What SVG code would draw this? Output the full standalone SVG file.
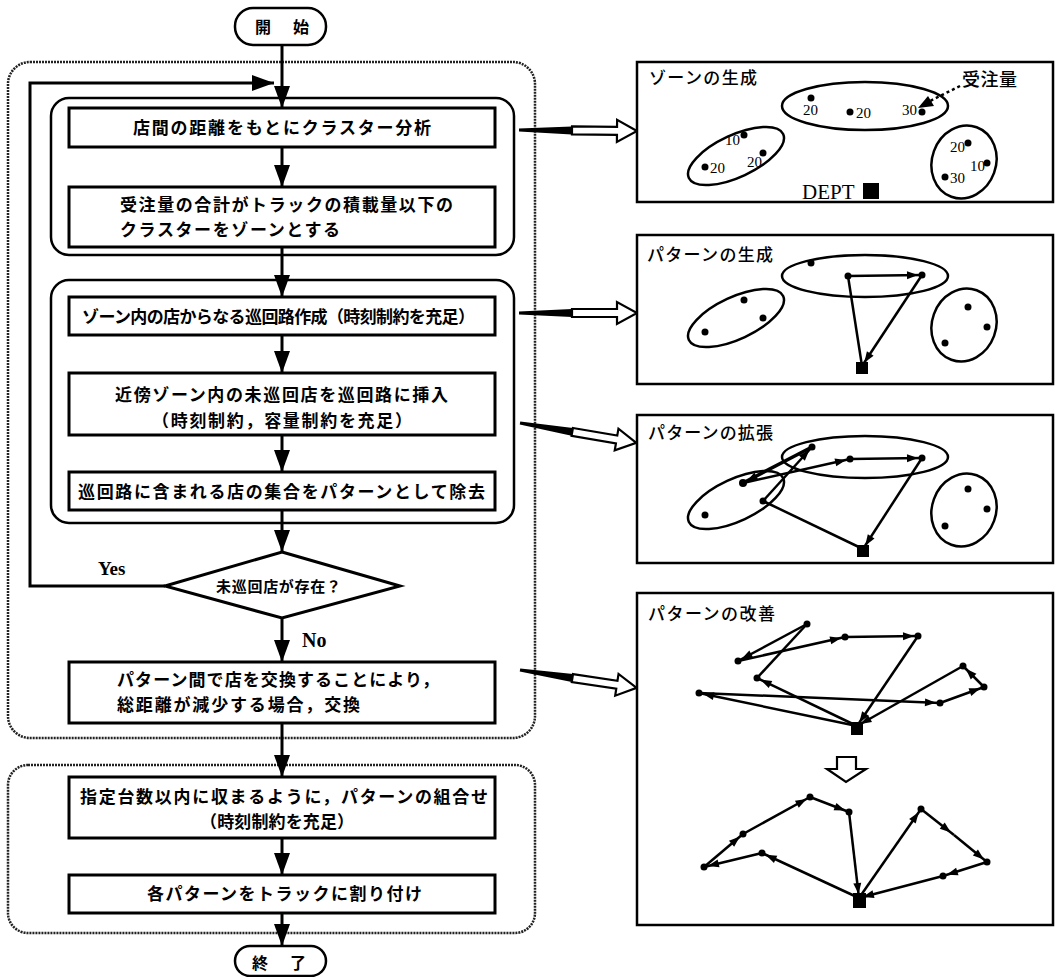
<svg xmlns="http://www.w3.org/2000/svg" xmlns:xlink="http://www.w3.org/1999/xlink" width="1056" height="977" viewBox="0 0 1056 977">
<style>
.bg{fill:#fff}
.outer{fill:none;stroke:#222;stroke-width:2.5;stroke-dasharray:2 1}
.inner{fill:none;stroke:#000;stroke-width:2.5}
.box{fill:#fff;stroke:#000;stroke-width:3}
.term{fill:#fff;stroke:#000;stroke-width:2.5}
.panel{fill:#fff;stroke:#000;stroke-width:2.5}
.conn{fill:none;stroke:#000;stroke-width:3}
.route{fill:none;stroke:#000;stroke-width:2.5}
.ell{fill:none;stroke:#000;stroke-width:2.5}
.jp{font-family:"Noto Sans CJK JP","Noto Sans CJK SC",sans-serif;font-weight:700;font-size:17px;fill:#000}
.jt{font-family:"Noto Sans CJK JP","Noto Sans CJK SC",sans-serif;font-weight:500;font-size:17px;fill:#000}
.num{font-family:"Liberation Serif",serif;font-size:15px;fill:#000}
.lab{font-family:"Liberation Serif",serif;font-weight:700;font-size:19px;fill:#000}
</style>
<defs>
<marker id="ah" markerUnits="userSpaceOnUse" markerWidth="22" markerHeight="16" refX="22" refY="8" orient="auto" overflow="visible"><path d="M0,0 L22,8 L0,16 z" fill="#000"/></marker>
<marker id="sa" markerUnits="userSpaceOnUse" markerWidth="16" markerHeight="8" refX="15" refY="4" orient="auto" overflow="visible"><path d="M0,0 L11,4 L0,8 z" fill="#000"/></marker>
<g id="hollow">
<polygon points="0,-1.5 53,-4 53,4 0,1.5" fill="#000"/>
<polygon points="53,-4 98,-4 98,-11 118,0 98,11 98,4 53,4" fill="#fff" stroke="#000" stroke-width="2.2" stroke-linejoin="miter"/>
</g>
</defs>
<rect class="bg" x="0" y="0" width="1056" height="977"/>

<g id="group-outer1"><rect class="outer" x="8" y="62" width="527" height="676" rx="22"/></g>
<g id="group-outer2"><rect class="outer" x="8" y="765" width="527" height="168" rx="20"/></g>
<g id="group-inner1"><rect class="inner" x="51" y="98" width="463" height="157" rx="18"/></g>
<g id="group-inner2"><rect class="inner" x="51" y="280" width="463" height="243" rx="18"/></g>

<g id="connectors">
<line class="conn" x1="282" y1="45" x2="282" y2="108" marker-end="url(#ah)"/>
<line class="conn" x1="282" y1="147" x2="282" y2="187" marker-end="url(#ah)"/>
<line class="conn" x1="282" y1="247" x2="282" y2="297" marker-end="url(#ah)"/>
<line class="conn" x1="282" y1="335" x2="282" y2="373" marker-end="url(#ah)"/>
<line class="conn" x1="282" y1="435" x2="282" y2="472" marker-end="url(#ah)"/>
<line class="conn" x1="282" y1="510" x2="282" y2="552" marker-end="url(#ah)"/>
<line class="conn" x1="282" y1="618" x2="282" y2="662" marker-end="url(#ah)"/>
<polyline class="conn" points="165,586 30,586 30,83 274,83" marker-end="url(#ah)"/>
<line class="conn" x1="282" y1="723" x2="282" y2="777" marker-end="url(#ah)"/>
<line class="conn" x1="282" y1="838" x2="282" y2="875" marker-end="url(#ah)"/>
<line class="conn" x1="282" y1="913" x2="282" y2="946" marker-end="url(#ah)"/>
<use xlink:href="#hollow" href="#hollow" transform="translate(519,130) rotate(0.5)"/>
<use xlink:href="#hollow" href="#hollow" transform="translate(519,313)"/>
<use xlink:href="#hollow" href="#hollow" transform="translate(520,423) rotate(9.7)"/>
<use xlink:href="#hollow" href="#hollow" transform="translate(520,670) rotate(8.7)"/>
</g>

<g id="start">
<rect class="term" x="235" y="8" width="91" height="37" rx="18"/>
<text class="jp" x="255" y="33" style="font-size:16px" textLength="54" lengthAdjust="spacing">開　始</text>
</g>
<g id="nodeA">
<rect class="box" x="69" y="108" width="426" height="39"/>
<text class="jp" x="133" y="134" textLength="298" lengthAdjust="spacing">店間の距離をもとにクラスター分析</text>
</g>
<g id="nodeB">
<rect class="box" x="69" y="187" width="426" height="60"/>
<text class="jp" x="120" y="211" textLength="333" lengthAdjust="spacing">受注量の合計がトラックの積載量以下の</text>
<text class="jp" x="120" y="236" textLength="220" lengthAdjust="spacing">クラスターをゾーンとする</text>
</g>
<g id="nodeC">
<rect class="box" x="69" y="297" width="426" height="38"/>
<text class="jp" x="82" y="323" textLength="393" lengthAdjust="spacing">ゾーン内の店からなる巡回路作成（時刻制約を充足）</text>
</g>
<g id="nodeD">
<rect class="box" x="69" y="373" width="426" height="62"/>
<text class="jp" x="115" y="401" textLength="333" lengthAdjust="spacing">近傍ゾーン内の未巡回店を巡回路に挿入</text>
<text class="jp" x="152" y="427" textLength="260" lengthAdjust="spacing">（時刻制約，容量制約を充足）</text>
</g>
<g id="nodeE">
<rect class="box" x="69" y="472" width="426" height="38"/>
<text class="jp" x="78" y="498" textLength="407" lengthAdjust="spacing">巡回路に含まれる店の集合をパターンとして除去</text>
</g>
<g id="decision">
<polygon points="282,552 400,586 282,618 165,586" fill="#fff" stroke="#000" stroke-width="3"/>
<text class="jp" x="216" y="592" style="font-size:15px" textLength="125" lengthAdjust="spacing">未巡回店が存在？</text>
<text class="lab" x="98" y="575">Yes</text>
<text class="lab" x="302" y="647" style="font-size:20px">No</text>
</g>
<g id="nodeF">
<rect class="box" x="69" y="662" width="426" height="61"/>
<text class="jp" x="117" y="686" textLength="322" lengthAdjust="spacing">パターン間で店を交換することにより，</text>
<text class="jp" x="117" y="711" textLength="243" lengthAdjust="spacing">総距離が減少する場合，交換</text>
</g>
<g id="nodeG">
<rect class="box" x="69" y="777" width="426" height="61"/>
<text class="jp" x="80" y="803" textLength="408" lengthAdjust="spacing">指定台数以内に収まるように，パターンの組合せ</text>
<text class="jp" x="200" y="828" textLength="154" lengthAdjust="spacing">（時刻制約を充足）</text>
</g>
<g id="nodeH">
<rect class="box" x="69" y="875" width="426" height="38"/>
<text class="jp" x="147" y="900" textLength="275" lengthAdjust="spacing">各パターンをトラックに割り付け</text>
</g>
<g id="end">
<rect class="term" x="235" y="946" width="91" height="30" rx="15"/>
<text class="jp" x="252" y="969" style="font-size:16px" textLength="54" lengthAdjust="spacing">終　了</text>
</g>

<g id="panel1">
<rect class="panel" x="637" y="62" width="416" height="140"/>
<text class="jt" x="649" y="84" textLength="108" lengthAdjust="spacing">ゾーンの生成</text>
<ellipse class="ell" cx="865" cy="106" rx="83" ry="24"/>
<ellipse class="ell" cx="736" cy="156" rx="52" ry="21" transform="rotate(-25 736 156)"/>
<ellipse class="ell" cx="964" cy="162" rx="32" ry="37" transform="rotate(20 964 162)"/>
<g fill="#000">
<circle cx="811" cy="98" r="3.5"/><circle cx="850" cy="112" r="3.5"/><circle cx="922" cy="112" r="3.5"/>
<circle cx="744" cy="135" r="3.5"/><circle cx="763" cy="153" r="3.5"/><circle cx="705" cy="167" r="3.5"/>
<circle cx="968" cy="143" r="3.5"/><circle cx="987" cy="163" r="3.5"/><circle cx="945" cy="177" r="3.5"/>
<rect x="863" y="183" width="16" height="16"/>
</g>
<text class="num" x="803" y="115">20</text>
<text class="num" x="856" y="118">20</text>
<text class="num" x="902" y="115">30</text>
<text class="num" x="725" y="145">10</text>
<text class="num" x="747" y="167">20</text>
<text class="num" x="710" y="173">20</text>
<text class="num" x="950" y="152">20</text>
<text class="num" x="970" y="171">10</text>
<text class="num" x="950" y="183">30</text>
<text class="num" x="802" y="199" style="font-size:21px">DEPT</text>
<text class="jt" x="962" y="86" style="font-size:18px" textLength="55" lengthAdjust="spacing">受注量</text>
<line x1="960" y1="86" x2="928" y2="102" stroke="#000" stroke-width="2.5" stroke-dasharray="3 3"/>
<path d="M918,108 L928,96 L934,106 z" fill="#000"/>
</g>

<g id="panel2">
<rect class="panel" x="637" y="235" width="416" height="149"/>
<text class="jt" x="647" y="261" textLength="126" lengthAdjust="spacing">パターンの生成</text>
<ellipse class="ell" cx="865" cy="276" rx="83" ry="21"/>
<ellipse class="ell" cx="736" cy="318" rx="52" ry="21" transform="rotate(-25 736 318)"/>
<ellipse class="ell" cx="964" cy="325" rx="32" ry="37" transform="rotate(20 964 325)"/>
<g fill="#000">
<circle cx="811" cy="263" r="3.5"/>
<circle cx="744" cy="300" r="3.5"/><circle cx="763" cy="318" r="3.5"/><circle cx="705" cy="332" r="3.5"/>
<circle cx="968" cy="307" r="3.5"/><circle cx="987" cy="327" r="3.5"/><circle cx="945" cy="343" r="3.5"/>
<circle cx="848" cy="276" r="3.5"/><circle cx="922" cy="275" r="3.5"/>
<rect x="856" y="362" width="12" height="12"/>
</g>
<line class="route" x1="862" y1="366" x2="848" y2="276"/>
<line class="route" x1="848" y1="276" x2="922" y2="275" marker-end="url(#sa)"/>
<line class="route" x1="922" y1="275" x2="862" y2="366" marker-end="url(#sa)"/>
</g>

<g id="panel3">
<rect class="panel" x="637" y="415" width="416" height="148"/>
<text class="jt" x="648" y="439" textLength="125" lengthAdjust="spacing">パターンの拡張</text>
<ellipse class="ell" cx="865" cy="457" rx="83" ry="21"/>
<ellipse class="ell" cx="736" cy="500" rx="52" ry="21" transform="rotate(-25 736 500)"/>
<ellipse class="ell" cx="964" cy="510" rx="32" ry="37" transform="rotate(20 964 510)"/>
<g fill="#000">
<circle cx="705" cy="515" r="3.5"/>
<circle cx="968" cy="489" r="3.5"/><circle cx="987" cy="509" r="3.5"/><circle cx="945" cy="526" r="3.5"/>
<circle cx="812" cy="447" r="3.5"/><circle cx="743" cy="483" r="4"/><circle cx="763" cy="501" r="3.5"/>
<circle cx="850" cy="459" r="3.5"/><circle cx="922" cy="458" r="3.5"/>
<rect x="857" y="545" width="12" height="12"/>
</g>
<line class="route" x1="863" y1="549" x2="763" y2="501"/>
<line class="route" x1="763" y1="501" x2="812" y2="447" marker-end="url(#sa)"/>
<line class="route" x1="812" y1="447" x2="743" y2="483" marker-end="url(#sa)" style="stroke-width:3.5"/>
<line class="route" x1="743" y1="483" x2="850" y2="459" marker-end="url(#sa)"/>
<line class="route" x1="850" y1="459" x2="922" y2="458" marker-end="url(#sa)"/>
<line class="route" x1="922" y1="458" x2="863" y2="549" marker-end="url(#sa)"/>
</g>

<g id="panel4">
<rect class="panel" x="637" y="593" width="416" height="332"/>
<text class="jt" x="648" y="620" textLength="127" lengthAdjust="spacing">パターンの改善</text>
<g fill="#000">
<circle cx="807" cy="624" r="3.5"/><circle cx="738" cy="661" r="3.5"/><circle cx="845" cy="637" r="3.5"/>
<circle cx="918" cy="636" r="3.5"/><circle cx="757" cy="678" r="3.5"/><circle cx="699" cy="693" r="3.5"/>
<circle cx="963" cy="666" r="3.5"/><circle cx="984" cy="687" r="3.5"/><circle cx="940" cy="703" r="3.5"/>
<rect x="851" y="722" width="12" height="13"/>
<circle cx="810" cy="797" r="3.5"/><circle cx="849" cy="812" r="3.5"/><circle cx="704" cy="867" r="3.5"/>
<circle cx="762" cy="853" r="3.5"/><circle cx="743" cy="834" r="3.5"/><circle cx="921" cy="809" r="3.5"/>
<circle cx="987" cy="862" r="3.5"/><circle cx="943" cy="876" r="3.5"/>
<rect x="853" y="893" width="13" height="15"/>
</g>
<line class="route" x1="857" y1="726" x2="757" y2="678" marker-end="url(#sa)"/>
<line class="route" x1="757" y1="678" x2="807" y2="624"/>
<line class="route" x1="807" y1="624" x2="738" y2="661" marker-end="url(#sa)"/>
<line class="route" x1="738" y1="661" x2="845" y2="637" marker-end="url(#sa)"/>
<line class="route" x1="845" y1="637" x2="918" y2="636" marker-end="url(#sa)"/>
<line class="route" x1="918" y1="636" x2="857" y2="726" marker-end="url(#sa)"/>
<line class="route" x1="857" y1="726" x2="699" y2="693" marker-end="url(#sa)"/>
<line class="route" x1="699" y1="693" x2="940" y2="703" marker-end="url(#sa)"/>
<line class="route" x1="940" y1="703" x2="984" y2="687" marker-end="url(#sa)"/>
<line class="route" x1="984" y1="687" x2="963" y2="666" marker-end="url(#sa)"/>
<line class="route" x1="963" y1="666" x2="857" y2="726" marker-end="url(#sa)"/>
<polygon points="837,757 856,757 856,769 866,769 846,782 827,769 837,769" fill="#fff" stroke="#000" stroke-width="2.2"/>
<line class="route" x1="859" y1="898" x2="762" y2="853" marker-end="url(#sa)"/>
<line class="route" x1="762" y1="853" x2="704" y2="867" marker-end="url(#sa)"/>
<line class="route" x1="704" y1="867" x2="743" y2="834" marker-end="url(#sa)"/>
<line class="route" x1="743" y1="834" x2="810" y2="797" marker-end="url(#sa)"/>
<line class="route" x1="810" y1="797" x2="849" y2="812" marker-end="url(#sa)"/>
<line class="route" x1="849" y1="812" x2="859" y2="898" marker-end="url(#sa)"/>
<line class="route" x1="859" y1="898" x2="921" y2="809" marker-end="url(#sa)"/>
<line class="route" x1="921" y1="809" x2="954" y2="835" marker-end="url(#sa)"/>
<line class="route" x1="954" y1="835" x2="987" y2="862" marker-end="url(#sa)"/>
<line class="route" x1="987" y1="862" x2="943" y2="876" marker-end="url(#sa)"/>
<line class="route" x1="943" y1="876" x2="859" y2="898" marker-end="url(#sa)"/>
</g>
</svg>
